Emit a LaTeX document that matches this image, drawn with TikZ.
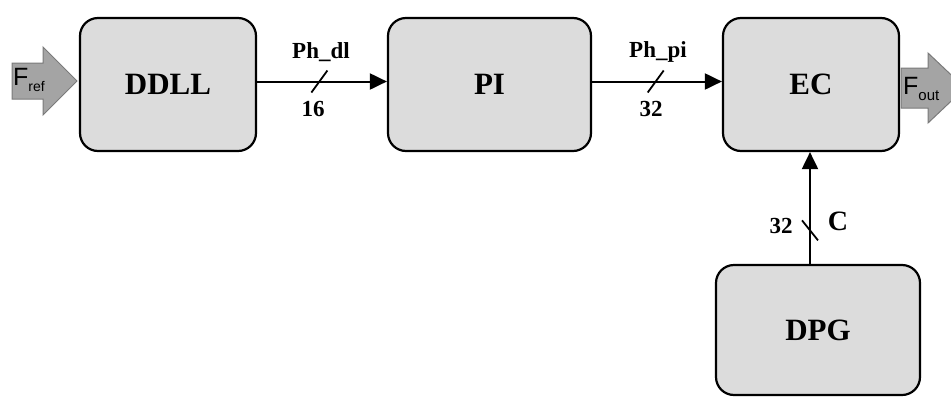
\documentclass[tikz,border=0pt]{standalone}
\usepackage{fontspec}
\setmainfont{Liberation Serif}
\setsansfont{Liberation Sans}
\usetikzlibrary{arrows.meta}
\definecolor{boxfill}{HTML}{DCDCDC}
\definecolor{sigfill}{HTML}{A4A4A4}
\definecolor{sigline}{HTML}{7A7A7A}
\begin{document}
\begin{tikzpicture}[x=1pt,y=-1pt,
  blk/.style={draw=black, line width=2.2pt, fill=boxfill, rounded corners=18pt,
    font=\fontsize{31}{31}\selectfont\bfseries, inner sep=0pt},
  bus/.style={line width=2pt, -{Triangle[length=17pt,width=16pt]}},
  lbl/.style={font=\fontsize{23}{23}\selectfont\bfseries, inner sep=0pt},
  sig/.style={draw=sigline, line width=1pt, fill=sigfill},
  sigtxt/.style={font=\sffamily\fontsize{25}{25}\selectfont, inner sep=0pt}]
\useasboundingbox (0,0) rectangle (951,397);
\clip (0,0) rectangle (951,397);
\fill[white] (0,0) rectangle (951,397);
% blocks
\node[blk, minimum width=176pt, minimum height=133pt] (ddll) at (168,84.5) {DDLL};
\node[blk, minimum width=203pt, minimum height=133pt] (pi) at (489.5,84.5) {PI};
\node[blk, minimum width=176pt, minimum height=133pt] (ec) at (811,84.5) {EC};
\node[blk, minimum width=204pt, minimum height=130pt] (dpg) at (818,330) {DPG};
% input / output signal arrows
\draw[sig] (12,63) -- (43,63) -- (43,47) -- (77,81) -- (43,115) -- (43,99) -- (12,99) -- cycle;
\node[sigtxt, anchor=west] (fref) at (13,80) {F\raisebox{-0.4ex}{\fontsize{14}{14}\selectfont ref}};
\draw[sig] (901,68) -- (928,68) -- (928,53) -- (965,88) -- (928,123) -- (928,108) -- (901,108) -- cycle;
\node[sigtxt, anchor=west] (fout) at (903,89) {F\raisebox{-0.4ex}{\fontsize{15}{15}\selectfont out}};
% buses
\draw[bus] ([yshift=3pt]ddll.east) -- ([yshift=3pt]pi.west)
  coordinate[pos=0.48] (s1);
\draw[line width=1.8pt] ([xshift=-8pt,yshift=-11pt]s1) -- ([xshift=8pt,yshift=11pt]s1);
\node[lbl] (l1) at (321,52) {Ph\_dl};
\node[lbl] (w1) at (313,109) {16};
\draw[bus] ([yshift=3pt]pi.east) -- ([yshift=3pt]ec.west)
  coordinate[pos=0.49] (s2);
\draw[line width=1.8pt] ([xshift=-8pt,yshift=-11pt]s2) -- ([xshift=8pt,yshift=11pt]s2);
\node[lbl] (l2) at (658,52) {Ph\_pi};
\node[lbl] (w2) at (651,109) {32};
\draw[bus] (dpg.north -| 810,0) -- (ec.south -| 810,0)
  coordinate[pos=0.3] (s3);
\draw[line width=1.8pt] ([xshift=-8pt,yshift=10pt]s3) -- ([xshift=8pt,yshift=-10pt]s3);
\node[lbl] (w3) at (781,226) {32};
\node[lbl, font=\fontsize{28}{28}\selectfont\bfseries] (c) at (838,221) {C};
\end{tikzpicture}
\end{document}
